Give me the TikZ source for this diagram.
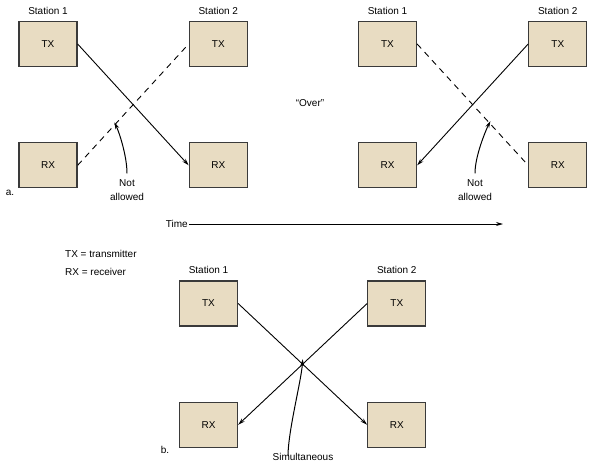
\documentclass[tikz,border=0pt]{standalone}
\usepackage{fontspec}
\setmainfont{Liberation Sans}
\usepackage{tikz}
\usetikzlibrary{positioning, arrows.meta, calc}

\definecolor{boxtan}{HTML}{E8DCC2}
\definecolor{boxline}{HTML}{3A3A3A}
\tikzset{
  unit/.style={draw=boxline, line width=1.3pt, fill=boxtan, minimum width=58pt,
               minimum height=45pt, inner sep=0pt},
  signal/.style={line width=0.9pt, -{Stealth[length=7pt,width=4pt]}},
  blocked/.style={line width=0.9pt, dash pattern=on 6pt off 5pt},
  pointer/.style={line width=1pt, -{Stealth[length=7pt,width=4pt]}},
  caption/.style={align=center, inner sep=1pt}
}

\begin{document}
\begin{tikzpicture}[x=1pt, y=-1pt] \fontsize{10}{14}\selectfont
  \useasboundingbox (0,0) rectangle (590,467);

  % a., left half
  \node [unit] (tx1a) at (48,44) {TX};
  \node [unit, right=111pt of tx1a] (tx2a) {TX};
  \node [unit, below=75pt of tx1a] (rx1a) {RX};
  \node [unit, below=75pt of tx2a] (rx2a) {RX};
  \node [above=3pt of tx1a] {Station 1};
  \node [above=3pt of tx2a] {Station 2};
  \draw [signal] (tx1a.east) -- (rx2a.west);          % sent
  \draw [blocked] (rx1a.east) -- (tx2a.west);         % not allowed
  \coordinate (hita) at ($(rx1a.east)!0.33!(tx2a.west)$);
  \node [caption] (nota) at (127,190) {Not\\allowed};
  \draw [pointer, shorten <=5pt] (nota.north) .. controls +(0,-22) and +(5,10) .. ([yshift=3pt]hita);
  \node at (10,193) {a.};

  % a., right half
  \node [unit] (tx1c) at (387.5,44) {TX};
  \node [unit, right=111pt of tx1c] (tx2c) {TX};
  \node [unit, below=75pt of tx1c] (rx1c) {RX};
  \node [unit, below=75pt of tx2c] (rx2c) {RX};
  \node [above=3pt of tx1c] {Station 1};
  \node [above=3pt of tx2c] {Station 2};
  \draw [signal] (tx2c.west) -- (rx1c.east);          % sent
  \draw [blocked] (tx1c.east) -- (rx2c.west);         % not allowed
  \coordinate (hitc) at ($(tx1c.east)!0.66!(rx2c.west)$);
  \node [caption] (notc) at (475,190) {Not\\allowed};
  \draw [pointer, shorten <=5pt] (notc.north) .. controls +(0,-22) and +(-5,10) .. ([yshift=3pt]hitc);

  \node (over) at (310,103) {“Over”};
  \node [left, inner sep=1pt] (time) at (189,224) {Time};
  \coordinate (tend) at (503,224);
  \draw [pointer, line width=0.8pt] (time.east) -- (tend);

  % legend
  \node [right, inner sep=0pt] (keytx) at (65,254) {TX = transmitter};
  \node [right, inner sep=0pt] (keyrx) at (65,272) {RX = receiver};

  % b.
  \node [unit] (tx1b) at (208.5,303.5) {TX};
  \node [unit, right=129pt of tx1b] (tx2b) {TX};
  \node [unit, below=75pt of tx1b] (rx1b) {RX};
  \node [unit, below=75pt of tx2b] (rx2b) {RX};
  \node [above=3pt of tx1b] {Station 1};
  \node [above=3pt of tx2b] {Station 2};
  \draw [signal] (tx1b.east) -- (rx2b.west);
  \draw [signal] (tx2b.west) -- (rx1b.east);
  \coordinate (hitb) at ($(tx1b.east)!0.5!(rx2b.west)$);
  \node [caption] (simb) at (303,457) {Simultaneous};
  \draw [pointer] ([xshift=-15pt,yshift=-4pt]simb.north) .. controls +(0,-25) and +(-1,20) .. ([yshift=5pt]hitb);
  \node at (165,450) {b.};
\end{tikzpicture}
\end{document}
